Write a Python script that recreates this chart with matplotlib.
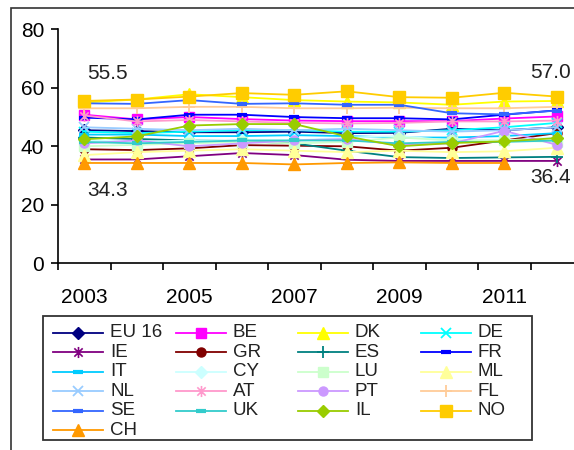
import numpy as np
import matplotlib.pyplot as plt
from matplotlib.lines import Line2D
from matplotlib.patches import Rectangle
from matplotlib.path import Path

plt.rcParams['font.family'] = ['Liberation Sans', 'DejaVu Sans']

nan = np.nan
years = ['2003', '2004', '2005', '2006', '2007', '2008', '2009', '2010', '2011', '2012']

eu16 = [45.5, 45.2, 44.8, 44.8, 45.0, 44.5, 44.6, 46.0, 45.5, 46.5]
be = [50.8, 49.2, 50.0, 49.3, 48.8, 48.6, 48.6, 48.6, 49.5, 50.2]
dk = [55.0, 56.0, 57.8, 56.8, 55.8, 55.3, 55.0, 54.2, 55.3, 55.5]
de = [45.0, 44.5, 45.0, 45.5, 45.5, 45.0, 45.0, 45.5, 46.5, 48.0]
ie = [35.5, 35.5, 36.6, 37.7, 37.0, 35.4, 35.0, 35.0, 35.0, 35.0]
gr = [39.0, 38.7, 39.3, 40.4, 40.2, 40.0, 38.5, 39.5, 42.0, 44.5]
es = [43.0, 42.5, 42.0, 41.8, 41.0, 38.5, 36.3, 36.0, 36.2, 36.4]
fr = [49.8, 49.2, 50.8, 50.8, 50.0, 49.6, 49.6, 49.2, 50.8, 52.3]
it = [44.0, 44.0, 43.5, 43.5, 43.8, 43.5, 43.0, 43.0, 43.5, 44.5]
cy = [42.0, 41.5, 42.0, 42.0, 42.0, 43.0, 43.5, 42.0, 42.0, 43.0]
lu = [40.0, 40.5, 41.0, 41.5, 41.0, 41.5, 43.0, 42.0, 42.0, 41.5]
ml = [37.0, 38.0, 38.5, 39.0, 38.5, 38.0, 38.5, 38.0, 38.3, 39.5]
nl = [46.5, 46.0, 45.5, 46.0, 45.5, 46.0, 45.5, 45.0, 45.5, 46.5]
at = [50.5, 48.5, 49.0, 48.5, 48.0, 47.8, 48.0, 48.5, 48.5, 48.8]
pt = [41.0, 42.0, 40.0, 41.0, 42.0, 42.5, 40.5, 41.0, 45.3, 40.5]
fl = [53.0, 53.0, 53.5, 53.5, 53.0, 53.0, 53.2, 53.0, 53.0, 53.5]
se = [54.7, 54.5, 55.8, 54.5, 54.7, 54.2, 54.2, 51.3, 50.9, 52.2]
uk = [41.5, 41.0, 41.5, 42.0, 42.0, 42.0, 41.0, 41.5, 41.5, 42.0]
il = [42.4, 43.4, 47.1, 47.6, 47.6, 43.4, 40.0, 41.1, 41.7, 42.8]
no = [55.5, 56.0, 57.0, 58.2, 57.6, 58.8, 56.8, 56.6, 58.3, 57.0]
ch = [34.3, 34.3, 34.3, 34.3, 33.8, 34.3, 34.5, 34.3, 34.3, nan]

# excel-style star: a cross plus a vertical bar
star = Path([(0, -1), (0, 1), (-0.75, -0.75), (0.75, 0.75), (-0.75, 0.75), (0.75, -0.75)],
            [Path.MOVETO, Path.LINETO] * 3)

# name, values, colour, marker, marker size, marker edge width
series = [
    ('EU 16', eu16, '#000080', 'D', 6.0, 1.0),
    ('BE', be, '#FF00FF', 's', 7.0, 1.0),
    ('DK', dk, '#FFFF00', '^', 8.0, 1.0),
    ('DE', de, '#00FFFF', 'x', 7.0, 1.3),
    ('IE', ie, '#800080', star, 8.0, 1.2),
    ('GR', gr, '#800000', 'o', 6.5, 1.0),
    ('ES', es, '#008080', '+', 8.0, 1.3),
    ('FR', fr, '#0000FF', '_', 7.0, 3.0),
    ('IT', it, '#00CCFF', '_', 7.0, 3.0),
    ('CY', cy, '#CCFFFF', 'D', 6.0, 1.0),
    ('LU', lu, '#CCFFCC', 's', 7.0, 1.0),
    ('ML', ml, '#FFFF99', '^', 8.0, 1.0),
    ('NL', nl, '#99CCFF', 'x', 7.0, 1.3),
    ('AT', at, '#FF99CC', star, 8.0, 1.2),
    ('PT', pt, '#CC99FF', 'o', 6.5, 1.0),
    ('FL', fl, '#FFCC99', '+', 8.0, 1.3),
    ('SE', se, '#3366FF', '_', 7.0, 3.0),
    ('UK', uk, '#33CCCC', '_', 7.0, 3.0),
    ('IL', il, '#99CC00', 'D', 6.5, 1.0),
    ('NO', no, '#FFCC00', 's', 8.0, 1.0),
    ('CH', ch, '#FF9900', '^', 8.5, 1.0),
]

W, H = 574, 450
fig = plt.figure(figsize=(W / 100, H / 100), dpi=100)


def fx(px):
    return px / W


def fy(py):
    return 1 - py / H


# chart area frame
fig.add_artist(Rectangle((fx(11), fy(470)), fx(620) - fx(11), fy(8) - fy(470),
                         fill=False, ec='#333333', lw=1.2, transform=fig.transFigure))

ax = fig.add_axes([fx(58), fy(263.3), (583 - 58) / W, (263.3 - 29.3) / H])
x = np.arange(len(years))
for name, vals, col, mk, ms, mew in series:
    ax.plot(x, vals, color=col, lw=1.3, marker=mk, ms=ms, mew=mew,
            mfc=col, mec=col, clip_on=False)

ax.set_xlim(-0.5, len(years) - 0.5)
ax.set_ylim(0, 80)
ax.set_yticks([0, 20, 40, 60, 80])
ax.set_xticks(x[::2])
ax.set_xticklabels(years[::2])
ax.set_xticks(np.arange(-0.5, len(years), 1), minor=True)
ax.tick_params(axis='y', direction='out', length=5, width=1.2, labelsize=15, pad=5)
ax.tick_params(axis='x', which='major', length=0, labelsize=15, pad=18)
ax.tick_params(axis='x', which='minor', direction='out', length=5, width=1.2)
for side in ['top', 'right']:
    ax.spines[side].set_visible(False)
for side in ['left', 'bottom']:
    ax.spines[side].set_linewidth(1.2)
ax.patch.set_alpha(0)

# first / last year extremes
ax.annotate('55.5', (0, no[0]), xytext=(16.5, 20), textcoords='offset points',
            ha='center', va='center', fontsize=15, color='#222222')
ax.annotate('34.3', (0, ch[0]), xytext=(16.5, -20), textcoords='offset points',
            ha='center', va='center', fontsize=15, color='#222222')
ax.annotate('57.0', (9, no[9]), xytext=(10, 17), textcoords='offset points',
            ha='right', va='center', fontsize=15, color='#222222')
ax.annotate('36.4', (9, es[9]), xytext=(10, -15), textcoords='offset points',
            ha='right', va='center', fontsize=15, color='#222222')

# legend box, laid out row by row in four equal columns
fig.add_artist(Rectangle((fx(43), fy(440)), fx(532) - fx(43), fy(316) - fy(440),
                         fill=False, ec='#333333', lw=1.3, transform=fig.transFigure))
for i, (name, vals, col, mk, ms, mew) in enumerate(series):
    r, c = divmod(i, 4)
    ly = 332.7 + r * 19.5
    lx = 53 + c * 122.5
    fig.add_artist(Line2D([fx(lx), fx(lx + 50)], [fy(ly), fy(ly)], color=col, lw=1.3,
                          transform=fig.transFigure))
    fig.add_artist(Line2D([fx(lx + 25)], [fy(ly)], marker=mk, ms=ms, mew=mew,
                          mfc=col, mec=col, transform=fig.transFigure))
    fig.text(fx(lx + 57), fy(ly), name, fontsize=13.5, ha='left', va='center',
             color='#222222')

fig.savefig('out.png', dpi=100)
